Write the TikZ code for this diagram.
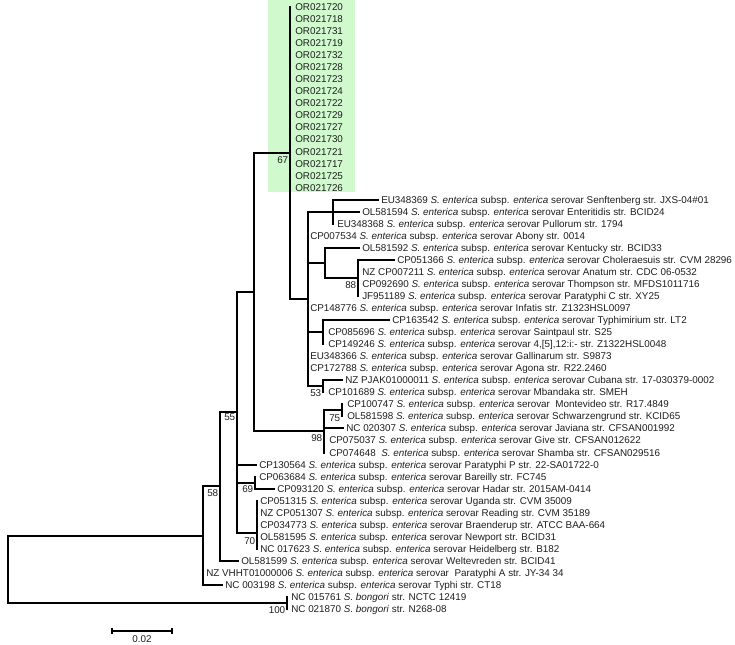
\documentclass[tikz,border=0pt]{standalone}
\usepackage{fontspec}
\setmainfont{Liberation Sans}
\definecolor{cladegreen}{RGB}{208,250,205}
\definecolor{txt}{RGB}{30,30,30}
\newcommand\Se{\textit{S. enterica} subsp. \textit{enterica} serovar}
\begin{document}
\begin{tikzpicture}[x=0.75pt,y=-0.75pt,
  br/.style={line width=1.5pt, line cap=rect, black},
  tip/.style={anchor=west, inner xsep=2.25pt, inner ysep=0pt, text height=5.3pt, text depth=0pt,
    font=\fontsize{7.4}{8}\selectfont, text=txt},
  boot/.style={anchor=east, inner sep=0pt, text height=5.3pt, text depth=0pt,
    font=\fontsize{7.4}{8}\selectfont, text=txt}]
\useasboundingbox (0,0) rectangle (735,644);
\fill[cladegreen] (268,0) rectangle (355,192);

% ---- tip labels ----
\node[tip] (t0)  at (292,7.0)   {OR021720};
\node[tip] (t1)  at (292,19.0)  {OR021718};
\node[tip] (t2)  at (292,31.1)  {OR021731};
\node[tip] (t3)  at (292,43.1)  {OR021719};
\node[tip] (t4)  at (292,55.2)  {OR021732};
\node[tip] (t5)  at (292,67.2)  {OR021728};
\node[tip] (t6)  at (292,79.2)  {OR021723};
\node[tip] (t7)  at (292,91.3)  {OR021724};
\node[tip] (t8)  at (292,103.3) {OR021722};
\node[tip] (t9)  at (292,115.4) {OR021729};
\node[tip] (t10) at (292,127.4) {OR021727};
\node[tip] (t11) at (292,139.4) {OR021730};
\node[tip] (t12) at (292,151.5) {OR021721};
\node[tip] (t13) at (292,163.5) {OR021717};
\node[tip] (t14) at (292,175.6) {OR021725};
\node[tip] (t15) at (292,187.6) {OR021726};
\node[tip] (t16) at (378,199.6) {EU348369 \Se\ Senftenberg str. JXS-04\#01};
\node[tip] (t17) at (359,211.7) {OL581594 \Se\ Enteritidis str. BCID24};
\node[tip] (t18) at (334,223.7) {EU348368 \Se\ Pullorum str. 1794};
\node[tip] (t19) at (307,235.8) {CP007534 \Se\ Abony str. 0014};
\node[tip] (t20) at (359,247.8) {OL581592 \Se\ Kentucky str. BCID33};
\node[tip] (t21) at (394,259.8) {CP051366 \Se\ Choleraesuis str. CVM 28296};
\node[tip] (t22) at (359,271.9) {NZ CP007211 \Se\ Anatum str. CDC 06-0532};
\node[tip] (t23) at (359,283.9) {CP092690 \Se\ Thompson str. MFDS1011716};
\node[tip] (t24) at (359,296.0) {JF951189 \Se\ Paratyphi C str. XY25};
\node[tip] (t25) at (307,308.0) {CP148776 \Se\ Infatis str. Z1323HSL0097};
\node[tip] (t26) at (389,320.0) {CP163542 \Se\ Typhimirium str. LT2};
\node[tip] (t27) at (325,332.1) {CP085696 \Se\ Saintpaul str. S25};
\node[tip] (t28) at (325,344.1) {CP149246 \Se\ 4,[5],12:i:- str. Z1322HSL0048};
\node[tip] (t29) at (307,356.2) {EU348366 \Se\ Gallinarum str. S9873};
\node[tip] (t30) at (307,368.2) {CP172788 \Se\ Agona str. R22.2460};
\node[tip] (t31) at (342,380.2) {NZ PJAK01000011 \Se\ Cubana str. 17-030379-0002};
\node[tip] (t32) at (325,392.3) {CP101689 \Se\ Mbandaka str. SMEH};
\node[tip] (t33) at (344,404.3) {CP100747 \Se\ \ Montevideo str. R17.4849};
\node[tip] (t34) at (344,416.4) {OL581598 \Se\ Schwarzengrund str. KCID65};
\node[tip] (t35) at (343,428.4) {NC 020307 \Se\ Javiana str. CFSAN001992};
\node[tip] (t36) at (326,440.4) {CP075037 \Se\ Give str. CFSAN012622};
\node[tip] (t37) at (326,452.5) {CP074648 \ \Se\ Shamba str. CFSAN029516};
\node[tip] (t38) at (256,464.5) {CP130564 \Se\ Paratyphi P str. 22-SA01722-0};
\node[tip] (t39) at (256,476.6) {CP063684 \Se\ Bareilly str. FC745};
\node[tip] (t40) at (274,488.6) {CP093120 \Se\ Hadar str. 2015AM-0414};
\node[tip] (t41) at (257,500.6) {CP051315 \Se\ Uganda str. CVM 35009};
\node[tip] (t42) at (257,512.7) {NZ CP051307 \Se\ Reading str. CVM 35189};
\node[tip] (t43) at (257,524.7) {CP034773 \Se\ Braenderup str. ATCC BAA-664};
\node[tip] (t44) at (257,536.8) {OL581595 \Se\ Newport str. BCID31};
\node[tip] (t45) at (257,548.8) {NC 017623 \Se\ Heidelberg str. B182};
\node[tip] (t46) at (238,560.8) {OL581599 \Se\ Weltevreden str. BCID41};
\node[tip] (t47) at (203,572.9) {NZ VHHT01000006 \Se\ \ Paratyphi A str. JY-34 34};
\node[tip] (t48) at (222,584.9) {NC 003198 \Se\ Typhi str. CT18};
\node[tip] (t49) at (288,597.0) {NC 015761 \textit{S. bongori} str. NCTC 12419};
\node[tip] (t50) at (288,609.0) {NC 021870 \textit{S. bongori} str. N268-08};

% ---- internal nodes ----
\coordinate (root) at (8,569.3);
\coordinate (nA)   at (203,535.6);
\coordinate (n58)  at (220,486.4);
\coordinate (n55)  at (237,412.0);
\coordinate (nB)   at (254,292.2);
\coordinate (n67)  at (290,153.0);
\coordinate (nC)   at (308,299.0);
\coordinate (nSen) at (333,211.7);
\coordinate (nKen) at (325,262.9);
\coordinate (n88)  at (358,277.9);
\coordinate (nTyp) at (323,332.0);
\coordinate (n53)  at (323,386.3);
\coordinate (n98)  at (324,431.4);
\coordinate (n75)  at (342,410.3);
\coordinate (n69)  at (255,482.6);
\coordinate (n70)  at (257,533.0);
\coordinate (nBon) at (287,603.0);

% ---- verticals ----
\draw[br] (root |- nA) -- (root |- nBon);
\draw[br] (nA |- n58) -- (nA |- t48);
\draw[br] (n58 |- n55) -- (n58 |- t46);
\draw[br] (n55 |- nB) -- (n55 |- n70);
\draw[br] (nB |- n67) -- (nB |- n98);
\draw[br] (n67 |- t0) -- (n67 |- nC);
\draw[br] (nC |- nSen) -- (nC |- n53);
\draw[br] (nSen |- t16) -- (nSen |- t18);
\draw[br] (nKen |- t20) -- (nKen |- n88);
\draw[br] (n88 |- t21) -- (n88 |- t24);
\draw[br] (nTyp |- t26) -- (nTyp |- t28);
\draw[br] (n53 |- t31) -- (n53 |- t32);
\draw[br] (n98 |- n75) -- (n98 |- t37);
\draw[br] (n75 |- t33) -- (n75 |- t34);
\draw[br] (n69 |- t39) -- (n69 |- t40);
\draw[br] (n70 |- t41) -- (n70 |- t45);
\draw[br] (nBon |- t49) -- (nBon |- t50);

% ---- horizontals ----
\draw[br] (root |- nA) -- (nA);
\draw[br] (root |- nBon) -- (nBon);
\draw[br] (nA |- n58) -- (n58);
\draw[br] (nA |- t48) -- (t48.west);
\draw[br] (n58 |- n55) -- (n55);
\draw[br] (n58 |- t46) -- (t46.west);
\draw[br] (n55 |- nB) -- (nB);
\draw[br] (n55 |- t38) -- (t38.west);
\draw[br] (n55 |- n69) -- (n69);
\draw[br] (n55 |- n70) -- (n70);
\draw[br] (nB |- n67) -- (n67);
\draw[br] (nB |- n98) -- (n98);
\draw[br] (n67 |- nC) -- (nC);
\draw[br] (nC |- nSen) -- (nSen);
\draw[br] (nC |- nKen) -- (nKen);
\draw[br] (nC |- nTyp) -- (nTyp);
\draw[br] (nC |- n53) -- (n53);
\draw[br] (nSen |- t16) -- (t16.west);
\draw[br] (nSen |- t17) -- (t17.west);
\draw[br] (nKen |- t20) -- (t20.west);
\draw[br] (nKen |- n88) -- (n88);
\draw[br] (n88 |- t21) -- (t21.west);
\draw[br] (nTyp |- t26) -- (t26.west);
\draw[br] (n53 |- t31) -- (t31.west);
\draw[br] (n98 |- n75) -- (n75);
\draw[br] (n98 |- t35) -- (t35.west);
\draw[br] (n69 |- t40) -- (t40.west);

% ---- bootstrap values ----
\node[boot] (b67)  at (288.5,160) {67};
\node[boot] (b88)  at (356.5,284.5) {88};
\node[boot] (b53)  at (321.5,392.5) {53};
\node[boot] (b75)  at (340.5,417.5) {75};
\node[boot] (b98)  at (322.5,438) {98};
\node[boot] (b55)  at (235.5,417) {55};
\node[boot] (b69)  at (253.5,489) {69};
\node[boot] (b70)  at (255.5,541) {70};
\node[boot] (b58)  at (218.5,492.5) {58};
\node[boot] (b100) at (285.5,610) {100};

% ---- scale bar ----
\coordinate (sbL) at (112,631);
\coordinate (sbR) at (172,631);
\draw[line width=1.2pt] (sbL) -- (sbR);
\draw[line width=0.9pt] ([yshift=2.2pt]sbL) -- ([yshift=-2.2pt]sbL);
\draw[line width=0.9pt] ([yshift=2.2pt]sbR) -- ([yshift=-2.2pt]sbR);
\node[font=\fontsize{7.4}{8}\selectfont, text=txt, inner sep=0pt] (sbt) at (142,639) {0.02};
\end{tikzpicture}
\end{document}
